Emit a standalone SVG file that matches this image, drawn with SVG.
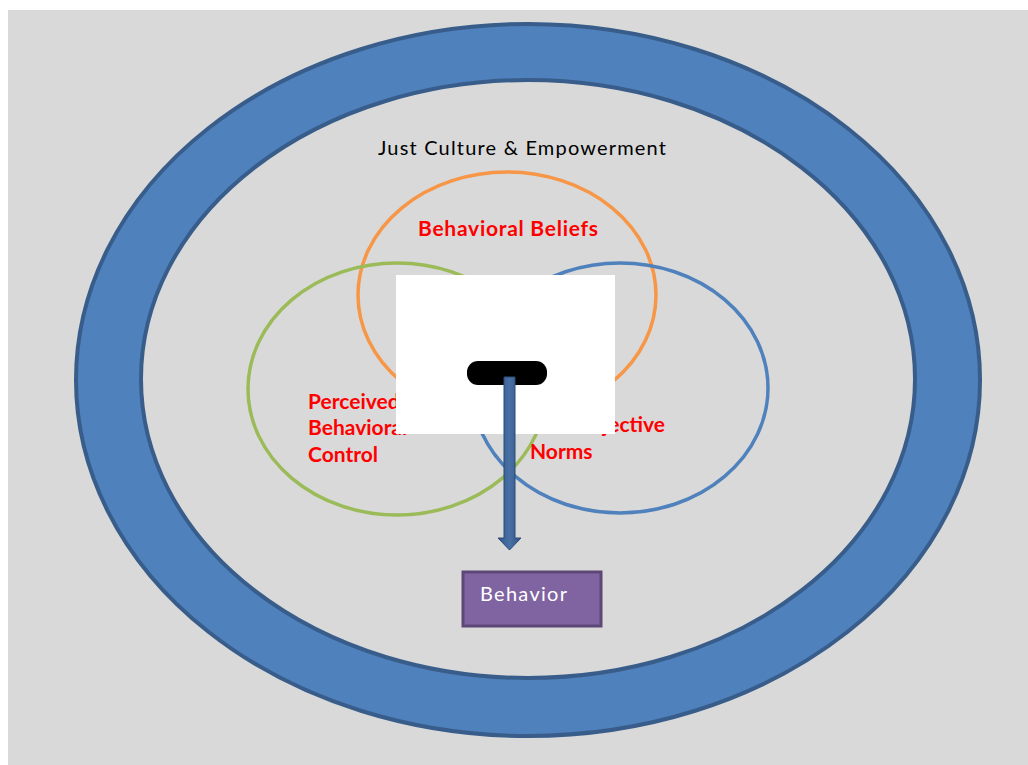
<svg xmlns="http://www.w3.org/2000/svg" width="1028" height="765" viewBox="0 0 1028 765">
  <style>
    .venn { fill: none; stroke-width: 3.5; }
    .red { font-family: Lato, "Liberation Sans", sans-serif; font-weight: bold; font-size: 21px; fill: #FF0000; }
    .plain { font-family: Lato, "Liberation Sans", sans-serif; font-size: 20px; }
  </style>
  <defs>
    <linearGradient id="shaftGrad" x1="0" y1="0" x2="1" y2="0">
      <stop offset="0" stop-color="#345785"/>
      <stop offset="0.5" stop-color="#4870A6"/>
      <stop offset="1" stop-color="#345785"/>
    </linearGradient>
  </defs>

  <rect x="0" y="0" width="1028" height="765" fill="#FFFFFF"/>
  <rect x="8" y="10" width="1020" height="755" fill="#D9D9D9"/>

  <!-- outer ring -->
  <g id="ring">
    <ellipse cx="528" cy="380" rx="452" ry="356" fill="#4F81BD" stroke="#385D8A" stroke-width="4"/>
    <ellipse cx="528" cy="379" rx="387" ry="299" fill="#D9D9D9" stroke="#385D8A" stroke-width="4"/>
  </g>

  <g id="culture">
    <text class="plain" x="378" y="155" fill="#000000" textLength="288">Just Culture &amp; Empowerment</text>
  </g>

  <g id="beliefs">
    <ellipse class="venn" cx="507" cy="295" rx="149" ry="123" stroke="#F79646"/>
    <text class="red" x="418" y="236" textLength="180">Behavioral Beliefs</text>
  </g>

  <g id="control">
    <ellipse class="venn" cx="397" cy="389" rx="149" ry="126" stroke="#9BBB59"/>
    <text class="red" x="308" y="409">Perceived</text>
    <text class="red" x="308" y="435">Behavioral</text>
    <text class="red" x="308" y="462">Control</text>
  </g>

  <g id="norms">
    <ellipse class="venn" cx="620" cy="388" rx="148" ry="125" stroke="#4F81BD"/>
    <text class="red" x="665" y="432" text-anchor="end">Subjective</text>
    <text class="red" x="530" y="459">Norms</text>
  </g>

  <g id="intention">
    <rect x="396" y="275" width="219" height="159" fill="#FFFFFF"/>
    <rect x="467" y="361" width="80" height="24" rx="11" fill="#000000"/>
  </g>

  <g id="connectors">
    <path d="M504,377 L515,377 L515,538 L521,538 L509.5,550 L498,538 L504,538 Z" fill="url(#shaftGrad)" stroke="#2B4A75" stroke-width="1"/>
  </g>

  <g id="behavior">
    <rect x="463" y="572" width="138" height="54" fill="#8064A2" stroke="#5C4776" stroke-width="3"/>
    <text class="plain" x="480" y="601" fill="#FFFFFF" textLength="87">Behavior</text>
  </g>
</svg>
